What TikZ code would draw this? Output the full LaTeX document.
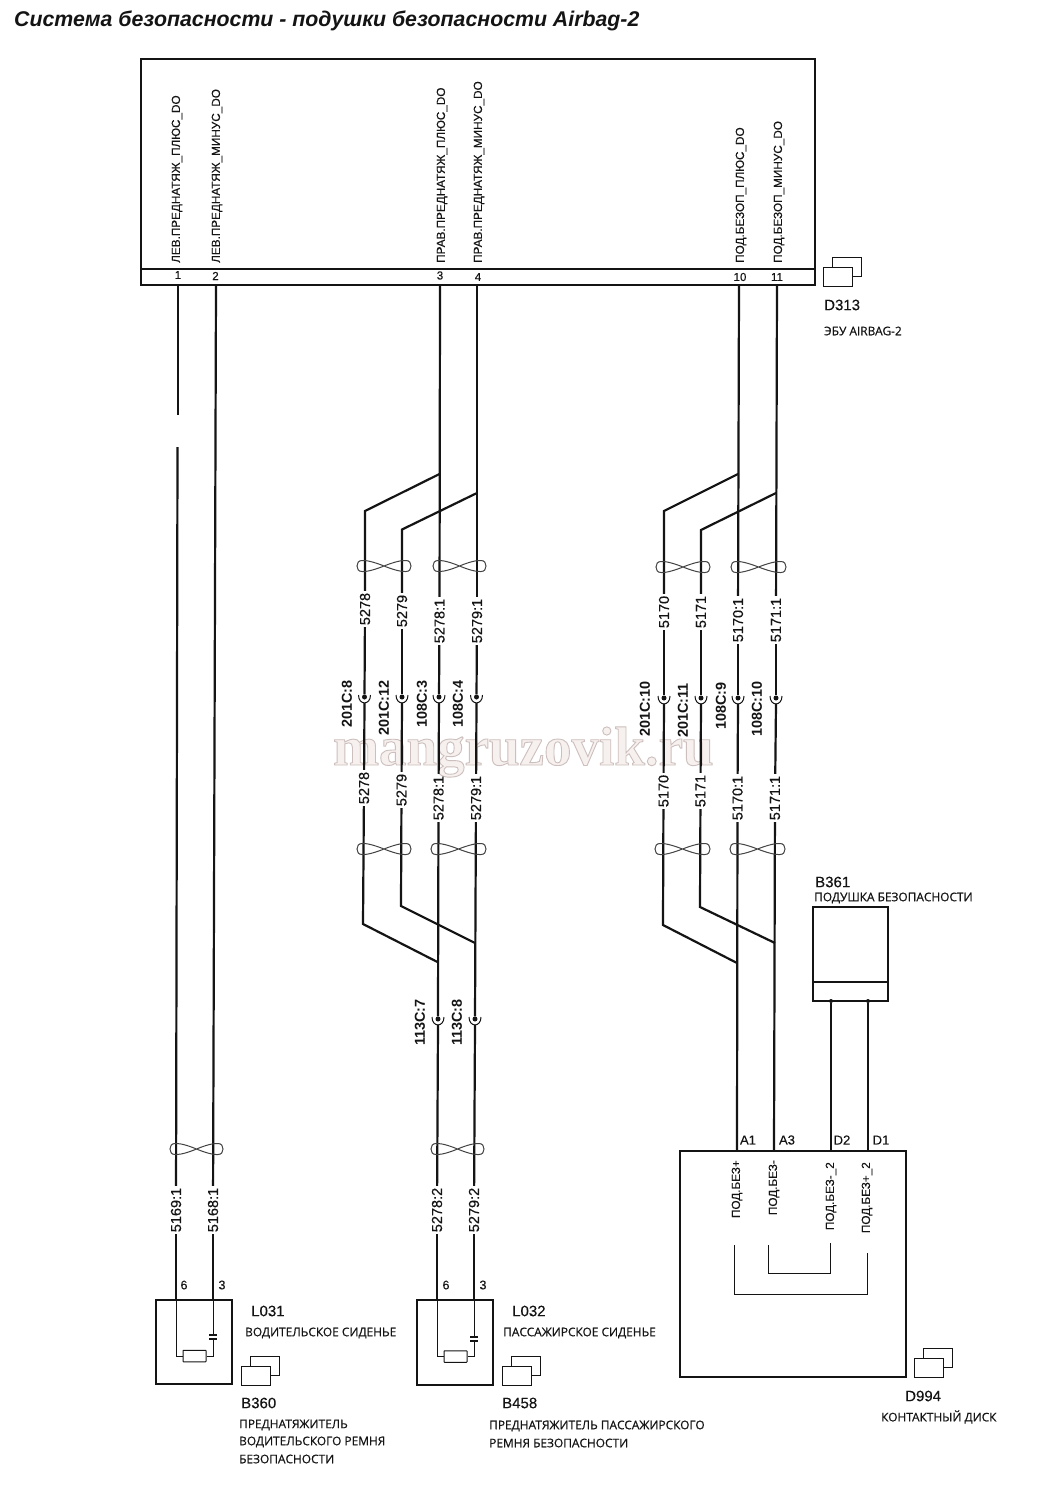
\documentclass[tikz,border=0pt]{standalone}
\usepackage{fontspec}
\setmainfont{Liberation Sans}
\newfontfamily\capfont[FakeBold=0.5]{Open Sans}
\newfontfamily\thinlab[FakeBold=0.25]{Liberation Sans}
\newfontfamily\wmfont{Liberation Serif}
\newcommand{\fsz}[1]{\fontsize{#1}{#1}\selectfont}
\definecolor{ink}{HTML}{141414}
\definecolor{wmfill}{HTML}{F6F0EE}
\tikzset{
  wire/.style={draw=ink,line width=2.2pt,line join=miter},
  fine/.style={draw=ink,line width=1pt},
  loopline/.style={draw=ink!80,line width=1pt},
  boxn/.style={draw=ink,line width=2.4pt,fill=white,inner sep=0pt,outer sep=0pt},
  rotlab/.style={rotate=90,anchor=center,inner sep=2pt,outer sep=0pt,text=ink,font=\thinlab\fsz{14.5}},
  connlab/.style={rotate=90,anchor=east,inner sep=0pt,text=ink,font=\fsz{14.4}\bfseries},
  pinlab/.style={rotate=90,anchor=west,inner sep=0pt,text=ink,font=\thinlab\fsz{11.75}},
  num/.style={inner sep=0pt,text=ink,font=\thinlab\fsz{12.5}},
  refid/.style={anchor=west,inner sep=0pt,text=ink,font=\thinlab\fsz{15}},
  capt/.style={anchor=west,inner sep=0pt,text=ink,font=\capfont\fsz{11.9}},
  dotn/.style={circle,fill=ink,inner sep=0pt,minimum size=5pt},
}
\newcommand{\conn}[3]{%
  \node[dotn] (#1) at (#2,#3) {};
  \coordinate (#1-b) at (#2,#3+6);
  \draw[line width=1pt,draw=ink] (#2-6,#3-2) .. controls (#2-6,#3+8.5) and (#2+6,#3+8.5) .. (#2+6,#3-2);}
\newcommand{\twist}[3]{%
  \draw[loopline] ({(#1+#2)/2},#3) .. controls ({#1+12},#3-6) and ({#1+7},#3-5.5) .. ({#1+5},#3-5.5)
     .. controls ({#1+1.5},#3-5.5) and (#1,#3-3) .. (#1,#3)
     .. controls (#1,#3+3) and ({#1+1.5},#3+5.5) .. ({#1+5},#3+5.5)
     .. controls ({#1+7},#3+5.5) and ({#1+12},#3+6) .. ({(#1+#2)/2},#3)
     .. controls ({#2-12},#3-6) and ({#2-7},#3-5.5) .. ({#2-5},#3-5.5)
     .. controls ({#2-1.5},#3-5.5) and (#2,#3-3) .. (#2,#3)
     .. controls (#2,#3+3) and ({#2-1.5},#3+5.5) .. ({#2-5},#3+5.5)
     .. controls ({#2-7},#3+5.5) and ({#2-12},#3+6) .. ({(#1+#2)/2},#3);}
\newcommand{\stack}[2]{%
  \draw[line width=0.9pt,draw=ink,fill=white] ({#1+9.5},#2-9.5) rectangle ({#1+38.5},#2+9.5);
  \draw[line width=0.9pt,draw=ink,fill=white] (#1,#2) rectangle ({#1+29},#2+19);}
\begin{document}
\begin{tikzpicture}[x=1pt,y=-1pt]
\useasboundingbox (0,0) rectangle (1047,1500);
\fill[white] (0,0) rectangle (1047,1500);

% watermark
\node[inner sep=0pt,anchor=base west,text=wmfill,font=\wmfont\bfseries\fsz{55}] (wm) at (333,765)
  {\special{pdf:code 2 Tr 0.9 w 0.80 0.75 0.74 RG}mangruzovik.ru\special{pdf:code 0 Tr}};

% title
\node[anchor=west,inner sep=0pt,text=ink,font=\fsz{21.3}\bfseries\itshape] (title) at (14,21)
  {Система безопасности - подушки безопасности Airbag-2};

% control unit
\node[boxn,minimum width=674pt,minimum height=226pt] (ecu) at (478,172) {};
\coordinate (ecuL) at (141,269); \coordinate (ecuR) at (815,269);
\draw[line width=1.4pt,draw=ink] (ecuL) -- (ecuR);
\foreach \n/\x/\t in {a/177/ЛЕВ.ПРЕДНАТЯЖ\_ПЛЮС\_DO,b/217/ЛЕВ.ПРЕДНАТЯЖ\_МИНУС\_DO,c/442/ПРАВ.ПРЕДНАТЯЖ\_ПЛЮС\_DO,d/479/ПРАВ.ПРЕДНАТЯЖ\_МИНУС\_DO,e/741/ПОД.БЕЗОП\_ПЛЮС\_DO,f/779/ПОД.БЕЗОП\_МИНУС\_DO}
  \node[pinlab] (ecu\n) at (\x,263) {\t};
\foreach \n/\x/\y in {1/178/275,2/215.5/276,3/440/275.5,4/478/277,10/740/277,11/777/277}
  \node[num,font=\thinlab\fsz{11.5}] (pn\n) at (\x,\y) {\n};
\coordinate (p1) at (178,285); \coordinate (p2) at (216,285);
\coordinate (p3) at (440,285); \coordinate (p4) at (477,285);
\coordinate (p10) at (739,285); \coordinate (p11) at (777,285);
\stack{823}{267}
\node[refid] (d313) at (824,305) {D313};
\node[capt] (d313c) at (824,331) {ЭБУ AIRBAG-2};

% left pair
\coordinate (g1) at (178,415); \coordinate (g2) at (177.5,447);
\node[rotlab] (l5169) at (176,1210) {5169:1};
\node[rotlab] (l5168) at (213,1210) {5168:1};
\coordinate (s1) at (176,1300); \coordinate (s2) at (213,1300);
\draw[wire] (p1) -- (g1);
\draw[wire] (g2) -- (l5169);
\draw[wire] (l5169) -- (s1);
\draw[wire] (p2) -- (l5168);
\draw[wire] (l5168) -- (s2);
\twist{170}{223}{1149}

% connector rows, group 5278/5279
\conn{c1}{364.5}{697}\conn{c2}{402}{697}\conn{c3}{439}{697}\conn{c4}{476.5}{697}
\conn{c5}{438}{1019}\conn{c6}{475}{1019}
\foreach \n/\x/\y/\t in {u1/365/609/5278,u2/402/611/5279,u3/439.5/621/5278:1,u4/477/621/5279:1,
  v1/364/788/5278,v2/401.5/790/5279,v3/438.5/798/5278:1,v4/476/798/5279:1,
  w3/437/1210/5278:2,w4/474/1210/5279:2}
  \node[rotlab] (\n) at (\x,\y) {\t};
\coordinate (j1) at (439.5,474); \coordinate (k1) at (365,511);
\coordinate (j2) at (477,493);   \coordinate (k2) at (402,529.5);
\coordinate (m1) at (363,924);   \coordinate (n1) at (437.5,962);
\coordinate (m2) at (401,906);   \coordinate (n2) at (475,943);
\coordinate (s3) at (437,1300);  \coordinate (s4) at (474,1300);
\draw[wire] (p3) -- (u3); \draw[wire] (u3) -- (c3); \draw[wire] (c3-b) -- (v3); \draw[wire] (v3) -- (c5);
\draw[wire] (c5-b) -- (w3); \draw[wire] (w3) -- (s3);
\draw[wire] (p4) -- (u4); \draw[wire] (u4) -- (c4); \draw[wire] (c4-b) -- (v4); \draw[wire] (v4) -- (c6);
\draw[wire] (c6-b) -- (w4); \draw[wire] (w4) -- (s4);
\draw[wire] (j1) -- (k1) -- (u1); \draw[wire] (u1) -- (c1); \draw[wire] (c1-b) -- (v1); \draw[wire] (v1) -- (m1) -- (n1);
\draw[wire] (j2) -- (k2) -- (u2); \draw[wire] (u2) -- (c2); \draw[wire] (c2-b) -- (v2); \draw[wire] (v2) -- (m2) -- (n2);
\twist{357}{411}{566}\twist{433}{486}{566}
\twist{357}{411}{849}\twist{431}{486}{849}
\twist{431}{484}{1149}
\node[connlab] (t1) at (347,680) {201C:8};
\node[connlab] (t2) at (384,680) {201C:12};
\node[connlab] (t3) at (422,680) {108C:3};
\node[connlab] (t4) at (458,680) {108C:4};
\node[connlab] (t5) at (420,999) {113C:7};
\node[connlab] (t6) at (457,999) {113C:8};

% group 5170/5171
\conn{d1}{664}{698}\conn{d2}{701}{698}\conn{d3}{738}{698}\conn{d4}{776}{698}
\foreach \n/\x/\y/\t in {x1/664/612/5170,x2/701/612/5171,x3/738/620/5170:1,x4/776/620/5171:1,
  y1/663.5/791/5170,y2/700.5/791/5171,y3/737.5/798/5170:1,y4/775/798/5171:1}
  \node[rotlab] (\n) at (\x,\y) {\t};
\coordinate (j3) at (738,474); \coordinate (k3) at (664,511);
\coordinate (j4) at (776,493); \coordinate (k4) at (701,530);
\coordinate (m3) at (663,925); \coordinate (n3) at (737,963);
\coordinate (m4) at (700,907); \coordinate (n4) at (775,943);
\coordinate (e3) at (737,1151); \coordinate (e4) at (774,1151);
\draw[wire] (p10) -- (x3); \draw[wire] (x3) -- (d3); \draw[wire] (d3-b) -- (y3); \draw[wire] (y3) -- (e3);
\draw[wire] (p11) -- (x4); \draw[wire] (x4) -- (d4); \draw[wire] (d4-b) -- (y4); \draw[wire] (y4) -- (e4);
\draw[wire] (j3) -- (k3) -- (x1); \draw[wire] (x1) -- (d1); \draw[wire] (d1-b) -- (y1); \draw[wire] (y1) -- (m3) -- (n3);
\draw[wire] (j4) -- (k4) -- (x2); \draw[wire] (x2) -- (d2); \draw[wire] (d2-b) -- (y2); \draw[wire] (y2) -- (m4) -- (n4);
\twist{656}{710}{567}\twist{731}{786}{567}
\twist{655}{710}{849}\twist{730}{785}{849}
\node[connlab] (t7) at (645,681) {201C:10};
\node[connlab] (t8) at (683,683) {201C:11};
\node[connlab] (t9) at (721,682) {108C:9};
\node[connlab] (t10) at (757,681) {108C:10};

% L031
\node[boxn,minimum width=76pt,minimum height=84pt] (l031) at (194,1342) {};
\node[draw=ink,line width=1pt,fill=white,inner sep=0pt,minimum width=23pt,minimum height=11.5pt,rounded corners=0.5pt] (r1) at (194.5,1356) {};
\draw[fine] (s1) -- (176,1356) -- (r1);
\draw[fine] (r1) -- (213,1356) -- (213,1339);
\draw[fine] (213,1335) -- (s2);
\draw[line width=1.1pt,draw=ink] (209,1335) -- (217,1335) (209,1339) -- (217,1339);
\node[num] (n16) at (184,1285) {6};
\node[num] (n13) at (222,1285) {3};
\node[refid] (l031t) at (251,1311) {L031};
\node[capt] (l031c) at (245,1333) {ВОДИТЕЛЬСКОЕ СИДЕНЬЕ};
\stack{241}{1366}
\node[refid] (b360) at (241,1403) {B360};
\node[capt] (b360a) at (239,1425) {ПРЕДНАТЯЖИТЕЛЬ};
\node[capt] (b360b) at (239,1442) {ВОДИТЕЛЬСКОГО РЕМНЯ};
\node[capt] (b360c) at (239,1459) {БЕЗОПАСНОСТИ};

% L032
\node[boxn,minimum width=76pt,minimum height=85pt] (l032) at (455,1342.5) {};
\node[draw=ink,line width=1pt,fill=white,inner sep=0pt,minimum width=23pt,minimum height=11.5pt,rounded corners=0.5pt] (r2) at (455.5,1356.5) {};
\draw[fine] (s3) -- (437,1356.5) -- (r2);
\draw[fine] (r2) -- (474,1356.5) -- (474,1341);
\draw[fine] (474,1337) -- (s4);
\draw[line width=1.1pt,draw=ink] (470,1337) -- (478,1337) (470,1341) -- (478,1341);
\node[num] (n26) at (446,1285) {6};
\node[num] (n23) at (483,1285) {3};
\node[refid] (l032t) at (512,1311) {L032};
\node[capt] (l032c) at (503,1333) {ПАССАЖИРСКОЕ СИДЕНЬЕ};
\stack{502}{1366}
\node[refid] (b458) at (502,1403) {B458};
\node[capt] (b458a) at (489,1426) {ПРЕДНАТЯЖИТЕЛЬ ПАССАЖИРСКОГО};
\node[capt] (b458b) at (489,1443) {РЕМНЯ БЕЗОПАСНОСТИ};

% B361
\node[boxn,minimum width=75pt,minimum height=94pt] (b361) at (850.5,954) {};
\draw[line width=1.4pt,draw=ink] (813,982) -- (888,982);
\node[refid] (b361t) at (815,882) {B361};
\node[capt] (b361c) at (814,898) {ПОДУШКА БЕЗОПАСНОСТИ};
\node[circle,fill=ink,inner sep=0pt,minimum size=4pt] (q1) at (831,1001) {};
\node[circle,fill=ink,inner sep=0pt,minimum size=4pt] (q2) at (868,1001) {};
\coordinate (e5) at (831,1151); \coordinate (e6) at (868,1151);
\draw[wire] (q1) -- (e5);
\draw[wire] (q2) -- (e6);

% D994
\node[boxn,minimum width=226pt,minimum height=226pt] (d994) at (793,1264) {};
\foreach \n/\x/\t in {f1/748/A1,f2/787/A3,f3/842/D2,f4/881/D1}
  \node[num,font=\thinlab\fsz{13}] (\n) at (\x,1140) {\t};
\foreach \n/\x/\y/\t in {h1/737/1160/ПОД.БЕЗ+,h2/774/1160/ПОД.БЕЗ-,h3/831/1162/ПОД.БЕЗ-\_2,h4/867/1162/ПОД.БЕЗ+\_2}
  \node[rotate=90,anchor=east,inner sep=0pt,text=ink,font=\thinlab\fsz{11.75}] (\n) at (\x,\y) {\t};
\draw[fine] (734,1245) -- (734,1294) -- (867,1294) -- (867,1253);
\draw[fine] (768,1245) -- (768,1273) -- (830,1273) -- (830,1243);
\stack{914}{1358}
\node[refid] (d994t) at (905,1396) {D994};
\node[capt] (d994c) at (881,1417) {КОНТАКТНЫЙ ДИСК};
\end{tikzpicture}
\end{document}
